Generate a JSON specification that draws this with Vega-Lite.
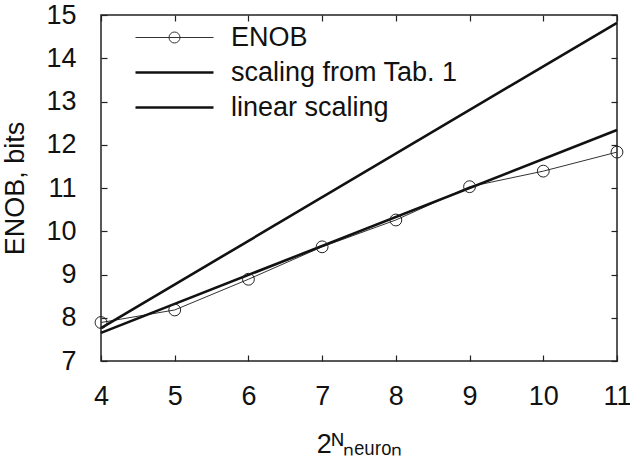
{
  "$schema": "https://vega.github.io/schema/vega-lite/v6.json",
  "width": 516,
  "height": 346,
  "autosize": {"type": "none"},
  "padding": {"left": 101, "top": 15, "right": 13, "bottom": 104},
  "background": "white",
  "config": {
    "font": "Liberation Sans",
    "view": {"stroke": "#222", "strokeWidth": 1.5},
    "axis": {
      "grid": false,
      "domain": false,
      "tickColor": "#222",
      "tickWidth": 1.2,
      "tickSize": -6,
      "labelFontSize": 27,
      "labelColor": "#111",
      "labelFont": "Liberation Sans",
      "labelFlush": false,
      "titleFontSize": 27,
      "titleFont": "Liberation Sans",
      "titleFontWeight": "normal",
      "titleColor": "#111"
    }
  },
  "datasets": {
    "lines": [
      {"n": 4, "bits": 7.76, "series": "scaling from Tab. 1"},
      {"n": 11, "bits": 14.82, "series": "scaling from Tab. 1"},
      {"n": 4, "bits": 7.65, "series": "linear scaling"},
      {"n": 11, "bits": 12.34, "series": "linear scaling"}
    ],
    "enob": [
      {"n": 4, "bits": 7.89, "series": "ENOB"},
      {"n": 5, "bits": 8.18, "series": "ENOB"},
      {"n": 6, "bits": 8.89, "series": "ENOB"},
      {"n": 7, "bits": 9.64, "series": "ENOB"},
      {"n": 8, "bits": 10.26, "series": "ENOB"},
      {"n": 9, "bits": 11.03, "series": "ENOB"},
      {"n": 10, "bits": 11.39, "series": "ENOB"},
      {"n": 11, "bits": 11.83, "series": "ENOB"}
    ]
  },
  "layer": [
    {
      "data": {"name": "enob"},
      "mark": {"type": "line", "strokeWidth": 1},
      "encoding": {
        "x": {
          "field": "n", "type": "quantitative",
          "scale": {"domain": [4, 11], "nice": false, "zero": false},
          "axis": {"values": [4, 5, 6, 7, 8, 9, 10, 11], "title": "2ᴺₙₑᵤᵣₒₙ", "labelPadding": 28, "titlePadding": 22}
        },
        "y": {
          "field": "bits", "type": "quantitative",
          "scale": {"domain": [7, 15], "nice": false, "zero": false},
          "axis": {"values": [7, 8, 9, 10, 11, 12, 13, 14, 15], "title": "ENOB, bits", "labelPadding": 31, "titleX": -78, "titleBaseline": "alphabetic"}
        },
        "color": {
          "field": "series", "type": "nominal",
          "scale": {"domain": ["ENOB", "scaling from Tab. 1", "linear scaling"], "range": ["#333", "#111", "#111"]},
          "legend": {
            "orient": "none",
            "legendX": 60,
            "legendY": 9,
            "padding": 0,
            "title": null,
            "labelFontSize": 27,
            "labelFont": "Liberation Sans",
            "labelColor": "#111",
            "labelLimit": 0,
            "labelOffset": 43,
            "symbolSize": 100,
            "rowPadding": 7,
            "symbolFillColor": "transparent",
            "encode": {
              "symbols": {
                "update": {
                  "shape": {"signal": "datum.value === 'ENOB' ? 'M-7.8,0H7.8M-1.1,0A1.1,1.1 0 1,1 1.1,0A1.1,1.1 0 1,1 -1.1,0' : 'M-7.8,0H7.8'"},
                  "strokeWidth": {"signal": "datum.value === 'ENOB' ? 1 : 2.6"},
                  "fill": {"value": "transparent"}
                }
              }
            }
          }
        }
      }
    },
    {
      "data": {"name": "lines"},
      "mark": {"type": "line", "strokeWidth": 2.6},
      "encoding": {
        "x": {"field": "n", "type": "quantitative", "axis": null},
        "y": {"field": "bits", "type": "quantitative", "axis": null},
        "color": {"field": "series", "type": "nominal"}
      }
    },
    {
      "data": {"name": "enob"},
      "mark": {"type": "point", "filled": false, "size": 140, "strokeWidth": 1, "color": "#222", "opacity": 1},
      "encoding": {
        "x": {"field": "n", "type": "quantitative", "axis": {"orient": "top", "values": [4, 5, 6, 7, 8, 9, 10, 11], "labels": false, "title": null}},
        "y": {"field": "bits", "type": "quantitative", "axis": {"orient": "right", "values": [7, 8, 9, 10, 11, 12, 13, 14, 15], "labels": false, "title": null}}
      }
    }
  ],
  "resolve": {"axis": {"x": "independent", "y": "independent"}}
}
